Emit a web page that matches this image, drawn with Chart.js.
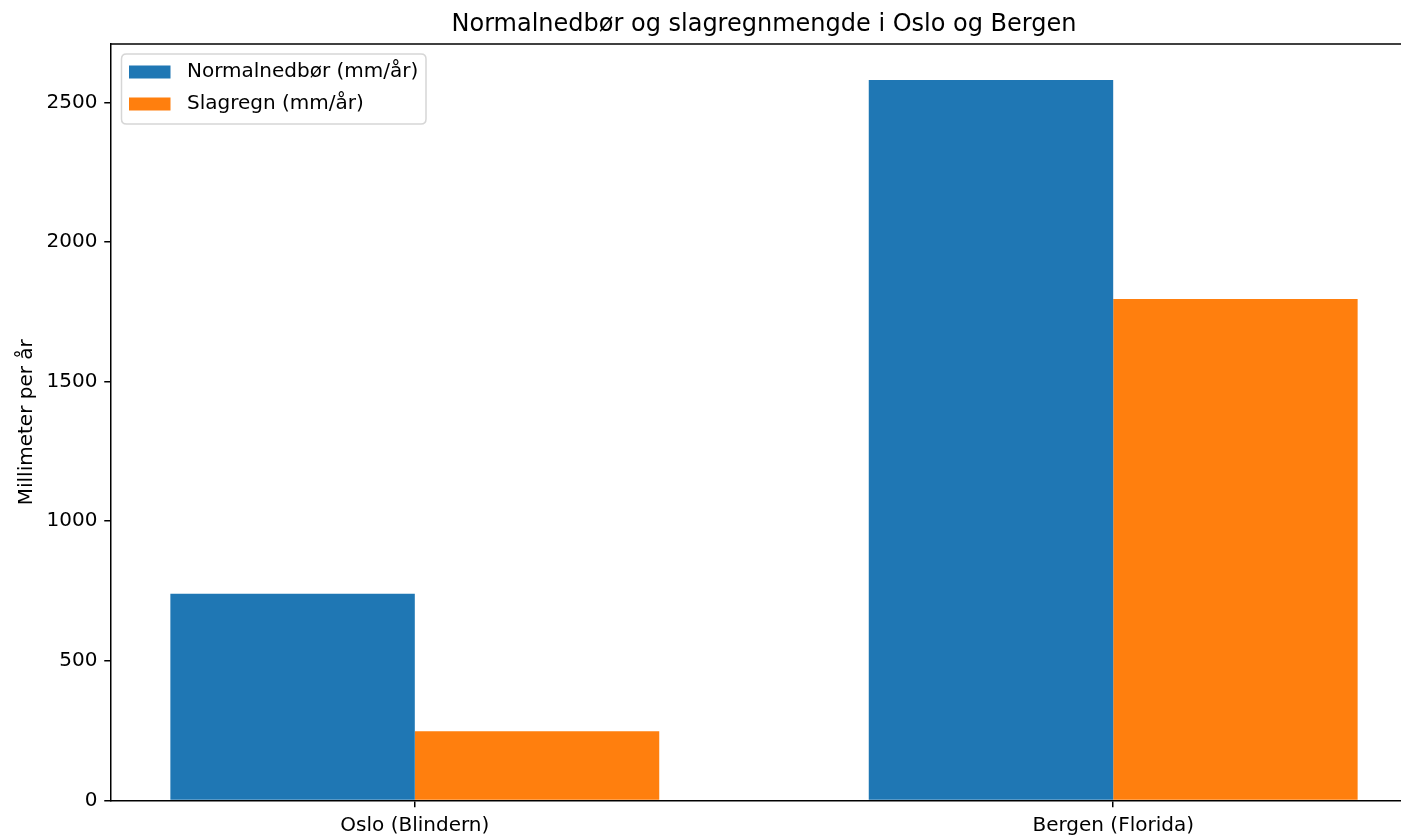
<!DOCTYPE html>
<html>
<head>
<meta charset="utf-8">
<script src="https://cdn.jsdelivr.net/npm/chart.js@4.4.1/dist/chart.umd.min.js"></script>
<style>
html,body{margin:0;padding:0;overflow:hidden;background:#fff;}
canvas{display:block;}
</style>
</head>
<body>
<canvas id="c" width="1417" height="836"></canvas>
<script>
const categories = ["Oslo (Blindern)", "Bergen (Florida)"];
const seriesNames = ["Normalnedbør (mm/år)", "Slagregn (mm/år)"];
const normalnedbor = [740, 2580];
const slagregn = [248, 1796];
const yTicks = [0, 500, 1000, 1500, 2000, 2500];
const titleText = "Normalnedbør og slagregnmengde i Oslo og Bergen";
const yLabel = "Millimeter per år";

const FONT = "'DejaVu Sans', sans-serif";
const FS = 20;
Chart.defaults.font.family = FONT;
Chart.defaults.color = '#000';

const toPoints = arr => arr.map((v, i) => ({x: i, y: v}));

const framePlugin = {
  id: 'frame',
  afterDatasetsDraw(chart) {
    const ctx = chart.ctx, a = chart.chartArea;
    ctx.save();
    ctx.strokeStyle = '#000';
    ctx.lineWidth = 1.5;
    ctx.beginPath();
    ctx.moveTo(a.left, a.top);
    ctx.lineTo(a.right, a.top);
    ctx.stroke();
    ctx.restore();
  }
};

const legendPlugin = {
  id: 'insideLegend',
  afterDatasetsDraw(chart) {
    const ctx = chart.ctx, a = chart.chartArea;
    const bx = a.left + 10.5, by = a.top + 10, bw = 304.5, bh = 70, r = 5;
    ctx.save();
    ctx.beginPath();
    ctx.moveTo(bx + r, by);
    ctx.lineTo(bx + bw - r, by);
    ctx.quadraticCurveTo(bx + bw, by, bx + bw, by + r);
    ctx.lineTo(bx + bw, by + bh - r);
    ctx.quadraticCurveTo(bx + bw, by + bh, bx + bw - r, by + bh);
    ctx.lineTo(bx + r, by + bh);
    ctx.quadraticCurveTo(bx, by + bh, bx, by + bh - r);
    ctx.lineTo(bx, by + r);
    ctx.quadraticCurveTo(bx, by, bx + r, by);
    ctx.closePath();
    ctx.fillStyle = 'rgba(255,255,255,0.8)';
    ctx.fill();
    ctx.strokeStyle = '#d6d6d6';
    ctx.lineWidth = 1.5;
    ctx.stroke();
    ctx.font = FS + "px " + FONT;
    ctx.textBaseline = 'middle';
    ctx.textAlign = 'left';
    chart.data.datasets.forEach((ds, i) => {
      const cy = by + 18 + i * 32;
      ctx.fillStyle = ds.backgroundColor;
      ctx.fillRect(bx + 7.5, cy - 6.5, 41.5, 13);
      ctx.fillStyle = '#000';
      ctx.fillText(ds.label, bx + 65.5, cy);
    });
    ctx.restore();
  }
};

new Chart(document.getElementById('c'), {
  type: 'bar',
  data: {
    datasets: [
      {label: seriesNames[0], data: toPoints(normalnedbor), backgroundColor: '#1f77b4', borderWidth: 0},
      {label: seriesNames[1], data: toPoints(slagregn), backgroundColor: '#ff7f0e', borderWidth: 0}
    ]
  },
  options: {
    responsive: false,
    animation: false,
    events: [],
    categoryPercentage: 0.7,
    barPercentage: 1.0,
    layout: {padding: {left: 0, right: 0, top: 0, bottom: 0}},
    plugins: {
      legend: {display: false},
      tooltip: {enabled: false},
      title: {
        display: true,
        fullSize: false,
        text: titleText,
        color: '#000',
        font: {size: 24, weight: 'normal', family: FONT, lineHeight: 1.2},
        padding: {top: 10.6, bottom: 4.6}
      }
    },
    scales: {
      x: {
        type: 'linear',
        min: -0.435,
        max: 1.435,
        offset: false,
        afterBuildTicks: s => { s.ticks = categories.map((_, i) => ({value: i})); },
        afterFit: s => { s.height = 35.5; },
        ticks: {
          callback: v => categories[v] !== undefined ? categories[v] : '',
          font: {size: FS, family: FONT},
          color: '#000',
          padding: 6.5,
          maxRotation: 0,
          autoSkip: false
        },
        grid: {display: true, offset: false, drawOnChartArea: false, drawTicks: true, tickLength: 6.75, color: '#000', lineWidth: 1.5},
        border: {display: true, color: '#000', width: 1.5}
      },
      y: {
        type: 'linear',
        min: 0,
        max: 2709,
        afterBuildTicks: s => { s.ticks = yTicks.map(v => ({value: v})); },
        afterFit: s => { s.width = 111; },
        ticks: {
          callback: v => String(v),
          font: {size: FS, family: FONT},
          color: '#000',
          padding: 6.75
        },
        title: {
          display: true,
          text: yLabel,
          color: '#000',
          font: {size: FS, family: FONT, lineHeight: 1.2},
          padding: {top: 14.5, bottom: 0}
        },
        grid: {display: true, offset: false, drawOnChartArea: false, drawTicks: true, tickLength: 6.75, color: '#000', lineWidth: 1.5},
        border: {display: true, color: '#000', width: 1.5}
      }
    }
  },
  plugins: [framePlugin, legendPlugin]
});
</script>
</body>
</html>
